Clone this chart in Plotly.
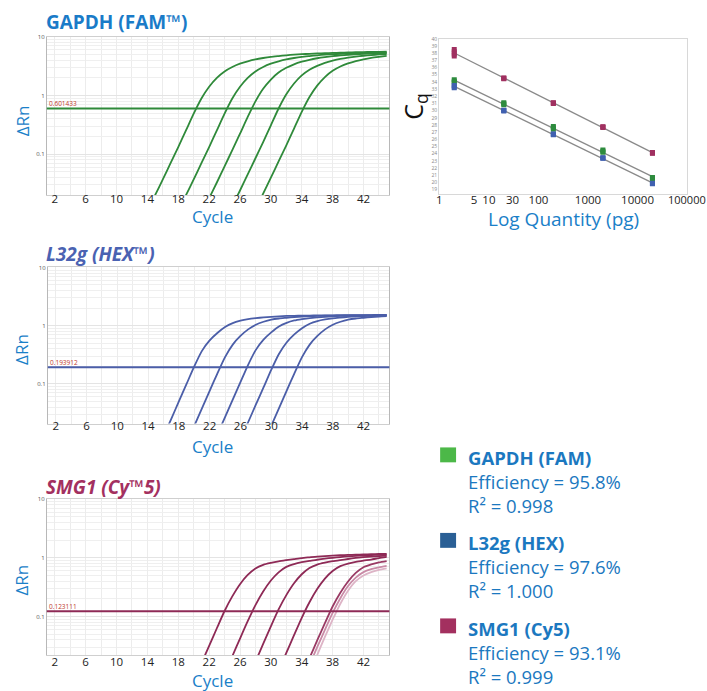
import plotly.graph_objects as go
import numpy as np

W, H = 707, 691

# ---------------- data ----------------
cycles = [14, 15, 16, 17, 18, 19, 20, 21, 22, 23, 24, 25, 26, 27, 28, 29,
          30, 31, 32, 33, 34, 35, 36, 37, 38, 39, 40, 41, 42, 43, 44, 45]
N = None
gapdh_curves = [
    [0.0107, 0.020, 0.037, 0.070, 0.132, 0.254, 0.49, 0.89, 1.41, 2.0, 2.57, 3.06, 3.48, 3.82, 4.12, 4.35,
     4.55, 4.70, 4.84, 4.96, 5.06, 5.13, 5.20, 5.26, 5.32, 5.36, 5.41, 5.45, 5.49, 5.52, 5.55, 5.58],
    [N, N, N, N, 0.0107, 0.020, 0.037, 0.070, 0.132, 0.254, 0.49, 0.89, 1.41, 2.0, 2.57, 3.06,
     3.48, 3.82, 4.12, 4.35, 4.55, 4.70, 4.84, 4.96, 5.06, 5.13, 5.20, 5.26, 5.30, 5.34, 5.38, 5.41],
    [N, N, N, N, N, N, N, 0.0094, 0.0177, 0.0328, 0.0619, 0.1167, 0.2226, 0.431, 0.793, 1.30,
     1.87, 2.46, 2.96, 3.40, 3.76, 4.06, 4.31, 4.51, 4.68, 4.82, 4.94, 5.04, 5.12, 5.19, 5.25, 5.30],
    [N, N, N, N, N, N, N, N, N, N, N, 0.013, 0.024, 0.045, 0.085, 0.16,
     0.31, 0.60, 1.05, 1.6, 2.2, 2.75, 3.2, 3.6, 3.92, 4.2, 4.42, 4.6, 4.75, 4.88, 5.0, 5.08],
    [N, N, N, N, N, N, N, N, N, N, N, N, N, N, 0.0114, 0.0212,
     0.0396, 0.075, 0.141, 0.272, 0.526, 0.94, 1.47, 2.06, 2.63, 3.11, 3.52, 3.86, 4.14, 4.38, 4.56, 4.72],
]
hex_curves = [
    [N, N, 0.0126, 0.025, 0.05, 0.1, 0.2, 0.37, 0.56, 0.75, 0.95, 1.11, 1.22, 1.30, 1.35, 1.39,
     1.42, 1.45, 1.47, 1.48, 1.49, 1.495, 1.50, 1.505, 1.51, 1.515, 1.52, 1.52, 1.525, 1.525, 1.53, 1.53],
    [N, N, N, N, N, 0.0095, 0.019, 0.038, 0.076, 0.151, 0.289, 0.474, 0.667, 0.865, 1.04, 1.17,
     1.27, 1.33, 1.37, 1.41, 1.44, 1.46, 1.475, 1.485, 1.49, 1.495, 1.50, 1.505, 1.51, 1.51, 1.515, 1.52],
    [N, N, N, N, N, N, N, N, 0.0068, 0.0135, 0.027, 0.054, 0.107, 0.213, 0.385, 0.576,
     0.767, 0.97, 1.12, 1.23, 1.30, 1.355, 1.39, 1.42, 1.45, 1.47, 1.48, 1.49, 1.495, 1.50, 1.505, 1.51],
    [N, N, N, N, N, N, N, N, N, N, N, 0.0055, 0.011, 0.022, 0.044, 0.087,
     0.174, 0.327, 0.515, 0.708, 0.906, 1.08, 1.20, 1.28, 1.34, 1.38, 1.415, 1.445, 1.465, 1.48, 1.49, 1.495],
    [N, N, N, N, N, N, N, N, N, N, N, N, N, N, 0.0048, 0.0095,
     0.019, 0.038, 0.076, 0.151, 0.289, 0.474, 0.667, 0.865, 1.04, 1.17, 1.27, 1.33, 1.37, 1.41, 1.44, 1.46],
]
cy5_curves = [
    [N, N, N, N, N, N, 0.0079, 0.0158, 0.0316, 0.063, 0.124, 0.22, 0.355, 0.51, 0.66, 0.76,
     0.82, 0.87, 0.91, 0.95, 0.99, 1.02, 1.05, 1.07, 1.09, 1.105, 1.12, 1.13, 1.14, 1.15, 1.16, 1.17],
    [N, N, N, N, N, N, N, N, N, 0.0052, 0.0105, 0.021, 0.042, 0.083, 0.156, 0.266,
     0.41, 0.566, 0.70, 0.78, 0.84, 0.887, 0.926, 0.966, 1.0, 1.03, 1.057, 1.077, 1.095, 1.11, 1.125, 1.135],
    [N, N, N, N, N, N, N, N, N, N, N, N, 0.0043, 0.0085, 0.017, 0.034,
     0.068, 0.132, 0.231, 0.368, 0.524, 0.67, 0.766, 0.826, 0.874, 0.914, 0.954, 0.993, 1.023, 1.05, 1.07, 1.09],
    [N, N, N, N, N, N, N, N, N, N, N, N, N, N, N, N,
     0.006, 0.012, 0.024, 0.048, 0.095, 0.175, 0.293, 0.442, 0.596, 0.72, 0.796, 0.85, 0.893, 0.934, 0.99, 1.04],
    [N, N, N, N, N, N, N, N, N, N, N, N, N, N, N, N,
     N, N, N, 0.0049, 0.0098, 0.0195, 0.039, 0.077, 0.148, 0.254, 0.395, 0.552, 0.69, 0.77, 0.835, 0.88],
    [N, N, N, N, N, N, N, N, N, N, N, N, N, N, N, N,
     N, N, N, N, 0.0074, 0.0148, 0.03, 0.059, 0.115, 0.205, 0.33, 0.46, 0.57, 0.64, 0.69, 0.73],
    [N, N, N, N, N, N, N, N, N, N, N, N, N, N, N, N,
     N, N, N, N, 0.0056, 0.011, 0.022, 0.045, 0.088, 0.165, 0.275, 0.40, 0.50, 0.57, 0.62, 0.66],
]
cy5_curve_colors = ["#8e2a56", "#8e2a56", "#8e2a56", "#8e2a56", "#9a3a64", "#c98aa6", "#ddb4c6"]

thresholds = [0.601433, 0.193912, 0.123111]
threshold_labels = ["0.601433", "0.193912", "0.123111"]

cycle_ticks = [2, 6, 10, 14, 18, 22, 26, 30, 34, 38, 42]
drn_ticks = [0.1, 1, 10]
drn_tick_text = ["0.1", "1", "10"]

quantities = [2, 20, 200, 2000, 20000]
gapdh_cq = [[34.3, 34.1, 33.9], [31.1, 30.95, 30.8], [27.8, 27.6, 27.4], [24.5, 24.35, 24.2], [20.7, 20.6, 20.5]]
hex_cq = [[33.5, 33.3, 33.2], [30.05, 30.0, 29.95], [26.75, 26.7, 26.65], [23.45, 23.4, 23.35], [19.9, 19.85, 19.8]]
cy5_cq = [[38.5, 38.2, 37.9, 37.6], [34.55, 34.5, 34.45], [31.1, 31.05, 31.0], [27.75, 27.7, 27.65], [24.15, 24.1, 24.05]]
qty_ticks = [1, 5, 10, 30, 100, 1000, 10000]
qty_tick_text = ["1", "5", "10", "30", "100", "1000", "10000"]
qty_last_tick = 100000
qty_last_text = "100000"

legend_names = ["GAPDH (FAM)", "L32g (HEX)", "SMG1 (Cy5)"]
efficiencies = ["95.8%", "97.6%", "93.1%"]
r2_values = ["0.998", "1.000", "0.999"]
legend_colors = ["#4cb848", "#2a5f95", "#a3305f"]
point_colors = ["#2e8b3e", "#4060b0", "#a03060"]

BLUE = "#1a80c8"
FONT = "Open Sans"


def px(x):
    return x / W


def py(y):
    return 1 - y / H


fig = go.Figure()

# ---------------- amplification panels ----------------
panels = [
    dict(curves=gapdh_curves, colors=["#2f8a3a"] * 5, ax="", dom_x=(44, 388), dom_y=(33, 192), yr=[-1.695, 1],
         thr=0, title="<b>GAPDH (FAM™)</b>", tcol="#1a7bc8", ty=18, drn_y=117, cyc_y=214, stand=-7),
    dict(curves=hex_curves, colors=["#4b5ea8"] * 5, ax="2", dom_x=(45, 388), dom_y=(265, 422), yr=[-1.68, 1],
         thr=1, title="<b><i>L32g (HEX™)</i></b>", tcol="#4a62b2", ty=251, drn_y=347, cyc_y=445, stand=-8),
    dict(curves=cy5_curves, colors=cy5_curve_colors, ax="3", dom_x=(44, 388), dom_y=(498, 655), yr=[-1.66, 1],
         thr=2, title="<b><i>SMG1 (Cy™5)</i></b>", tcol="#a3305f", ty=486, drn_y=579, cyc_y=680, stand=-4),
]

for p in panels:
    xa = "x" + p["ax"]
    ya = "y" + p["ax"]
    for vals, col in zip(p["curves"], p["colors"]):
        fig.add_trace(go.Scatter(x=cycles, y=vals, mode="lines", xaxis=xa, yaxis=ya,
                                 line=dict(color=col, width=1.8, shape="spline", smoothing=0.6),
                                 showlegend=False, hoverinfo="skip"))
    thr_col = p["colors"][0]
    fig.add_shape(type="line", xref=xa + " domain", yref=ya, x0=0, x1=1,
                  y0=thresholds[p["thr"]], y1=thresholds[p["thr"]],
                  line=dict(color=thr_col, width=2))
    fig.add_annotation(xref=xa + " domain", yref=ya, x=0.0, y=np.log10(thresholds[p["thr"]]),
                       text=threshold_labels[p["thr"]], showarrow=False, xanchor="left", yanchor="bottom",
                       font=dict(size=6.5, color="#c0392b", family=FONT), yshift=-2)
    axkey = "axis" + p["ax"]
    fig.update_layout(**{
        "x" + axkey: dict(domain=[px(p["dom_x"][0]), px(p["dom_x"][1])], range=[0.97, 45.35],
                          anchor=ya, tickvals=cycle_ticks, ticks="", showline=True, linecolor="#cfcfcf",
                          mirror=True, showgrid=True, gridcolor="#ececec", gridwidth=1,
                          minor=dict(dtick=2, tick0=0, showgrid=True, gridcolor="#ececec"),
                          ticklabelstandoff=p["stand"],
                          tickfont=dict(size=11.5, color="#222", family=FONT), zeroline=False),
        "y" + axkey: dict(domain=[py(p["dom_y"][1]), py(p["dom_y"][0])], type="log", range=p["yr"],
                          anchor=xa, tickvals=drn_ticks, ticktext=drn_tick_text, ticks="",
                          showline=True, linecolor="#b8b8b8", mirror=True, showgrid=True,
                          gridcolor="#e4e4e4", minor=dict(dtick="D1", showgrid=True, gridcolor="#efefef"),
                          tickfont=dict(size=6, color="#555", family=FONT), zeroline=False),
    })
    fig.add_annotation(xref="paper", yref="paper", x=px(41), y=py(p["ty"]), text=p["title"],
                       showarrow=False, xanchor="left", yanchor="middle",
                       font=dict(size=19, color=p["tcol"], family=FONT))
    fig.add_annotation(xref="paper", yref="paper", x=px(19), y=py(p["drn_y"]), text="ΔRn", textangle=-90,
                       showarrow=False, xanchor="center", yanchor="middle",
                       font=dict(size=17, color=BLUE, family=FONT))
    fig.add_annotation(xref="paper", yref="paper", x=px(210), y=py(p["cyc_y"]), text="Cycle",
                       showarrow=False, xanchor="center", yanchor="middle", borderpad=0,
                       font=dict(size=17, color=BLUE, family=FONT))

# ---------------- standard curve ----------------
for cq, col in zip([cy5_cq, gapdh_cq, hex_cq], [point_colors[2], point_colors[0], point_colors[1]]):
    xs, ys = [], []
    for q, reps in zip(quantities, cq):
        for r in reps:
            xs.append(q)
            ys.append(r)
    slope, icpt = np.polyfit(np.log10(xs), ys, 1)
    fx = [quantities[0], quantities[-1]]
    fig.add_trace(go.Scatter(x=fx, y=[slope * np.log10(v) + icpt for v in fx], mode="lines",
                             xaxis="x4", yaxis="y4", line=dict(color="#8a8a8a", width=1.3),
                             showlegend=False, hoverinfo="skip"))
    fig.add_trace(go.Scatter(x=xs, y=ys, mode="markers", xaxis="x4", yaxis="y4",
                             marker=dict(symbol="square", size=5, color=col, line=dict(width=0)),
                             showlegend=False, hoverinfo="skip"))

fig.update_layout(
    xaxis4=dict(domain=[px(438), px(687)], type="log", range=[-0.004, 5.0], anchor="y4",
                tickvals=qty_ticks, ticktext=qty_tick_text, ticks="", showgrid=False,
                showline=True, linecolor="#d8d8d8", mirror=True, zeroline=False, ticklabelstandoff=-5,
                tickfont=dict(size=11.5, color="#222", family=FONT)),
    yaxis4=dict(domain=[py(191), py(35)], range=[18.4, 40], anchor="x4", dtick=1, ticks="",
                showgrid=False, showline=True, linecolor="#d8d8d8", mirror=True, zeroline=False,
                tickfont=dict(size=5, color="#888", family=FONT)),
)
fig.add_annotation(xref="x4", yref="paper", x=np.log10(qty_last_tick), y=py(197), text=qty_last_text,
                   showarrow=False, xanchor="center", yanchor="middle", borderpad=0,
                   font=dict(size=11, color="#222", family=FONT))
fig.add_annotation(xref="paper", yref="paper", x=px(413), y=py(103), text="C<sub>q</sub>", textangle=-90,
                   showarrow=False, xanchor="center", yanchor="middle",
                   font=dict(size=25, color="#111", family=FONT))
fig.add_annotation(xref="paper", yref="paper", x=px(563), y=py(216), text="Log Quantity (pg)",
                   showarrow=False, xanchor="center", yanchor="middle",
                   font=dict(size=19, color=BLUE, family=FONT))

# ---------------- efficiency legend ----------------
block_top = [446, 532, 618]
LEG = "#1b78c0"
for i in range(3):
    t = block_top[i]
    fig.add_shape(type="rect", xref="paper", yref="paper", x0=px(439), x1=px(455), y0=py(t + 15), y1=py(t),
                  fillcolor=legend_colors[i], line=dict(width=0))
    txt = ("<b>" + legend_names[i] + "</b><br>Efficiency = " + efficiencies[i]
           + "<br>R² = " + r2_values[i])
    fig.add_annotation(xref="paper", yref="paper", x=px(466), y=py(t + 34), text=txt,
                       showarrow=False, xanchor="left", yanchor="middle", align="left", borderpad=0,
                       font=dict(size=18.5, color=LEG, family=FONT))

fig.update_layout(width=W, height=H, margin=dict(l=0, r=0, t=0, b=0),
                  paper_bgcolor="white", plot_bgcolor="white", showlegend=False,
                  font=dict(family=FONT))
fig.write_html("out.html")
